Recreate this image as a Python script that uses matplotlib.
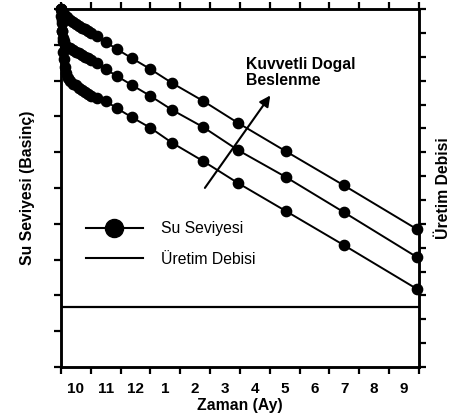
import numpy as np
import matplotlib.pyplot as plt
from matplotlib.lines import Line2D

plt.rcParams['font.family'] = ['Liberation Sans', 'DejaVu Sans']

# time axis in months from start (10th month = 0)
month_labels = ["10", "11", "12", "1", "2", "3", "4", "5", "6", "7", "8", "9"]

# water level series (three recharge cases)
x_top = [0, 0.05, 0.1, 0.15, 0.2, 0.3, 0.4, 0.5, 0.6, 0.7, 0.8, 0.9, 1.0,
         1.2, 1.5, 1.87, 2.37, 3.0, 3.73, 4.77, 5.93, 7.53, 9.47, 11.93]
y_top = [10, 9.93, 9.87, 9.82, 9.77, 9.7, 9.64, 9.59, 9.53, 9.48, 9.43, 9.38, 9.33,
         9.25, 9.08, 8.88, 8.63, 8.32, 7.93, 7.43, 6.82, 6.03, 5.08, 3.85]

x_mid = [0, 0.01, 0.02, 0.04, 0.07, 0.1, 0.15, 0.2, 0.3, 0.4, 0.5, 0.6, 0.7, 0.8, 0.9, 1.0,
         1.2, 1.5, 1.87, 2.37, 3.0, 3.73, 4.77, 5.93, 7.53, 9.47, 11.93]
y_mid = [10, 9.8, 9.6, 9.4, 9.2, 9.1, 9.0, 8.95, 8.9, 8.85, 8.8, 8.76, 8.72, 8.67, 8.62, 8.57,
         8.49, 8.32, 8.13, 7.88, 7.57, 7.18, 6.70, 6.06, 5.31, 4.33, 3.07]

x_low = [0, 0.02, 0.04, 0.06, 0.08, 0.1, 0.13, 0.17, 0.22, 0.3, 0.4, 0.5, 0.6, 0.7, 0.8, 0.9, 1.0,
         1.2, 1.5, 1.87, 2.37, 3.0, 3.73, 4.77, 5.93, 7.53, 9.47, 11.93]
y_low = [10, 9.7, 9.4, 9.1, 8.8, 8.6, 8.38, 8.22, 8.08, 7.98, 7.92, 7.87, 7.8, 7.74, 7.68, 7.63, 7.58,
         7.52, 7.43, 7.23, 6.98, 6.68, 6.26, 5.75, 5.14, 4.36, 3.41, 2.18]

# production rate (constant)
uretim = 1.68

fig = plt.figure(figsize=(4.67, 4.18), dpi=100)
ax = fig.add_axes([0.1306, 0.122, 0.7666, 0.8563])

for xs, ys in [(x_top, y_top), (x_mid, y_mid), (x_low, y_low)]:
    ax.plot(xs, ys, color='black', lw=1.4, marker='o', ms=7.4, clip_on=False, zorder=3)

ax.axhline(uretim, color='black', lw=1.6)

ax.set_xlim(0, 12)
ax.set_ylim(0, 10)

# ticks: marks on month borders, labels in between
ax.set_xticks(np.arange(0, 13))
ax.set_xticklabels([])
ax.set_xticks(np.arange(0.5, 12), minor=True)
ax.set_xticklabels(month_labels, minor=True, fontsize=11, fontweight='bold')
ax.set_yticks(np.arange(0, 11))
ax.set_yticklabels([])
ax.tick_params(axis='both', which='major', direction='out', length=5, width=1.6)
ax.tick_params(axis='x', which='minor', length=0, pad=11)
ax.tick_params(axis='x', which='major', top=True)
for s in ax.spines.values():
    s.set_linewidth(1.8)

ax.set_xlabel('Zaman (Ay)', fontsize=11.3, fontweight='bold', labelpad=1)
ax.set_ylabel('Su Seviyesi (Basinç)', fontsize=11.3, fontweight='bold', labelpad=10)

ax2 = ax.twinx()
ax2.set_ylim(0, 15)
ax2.set_yticks(np.arange(0, 16))
ax2.set_yticklabels([])
ax2.tick_params(axis='y', direction='out', length=5, width=1.6)
for s in ax2.spines.values():
    s.set_linewidth(1.8)
ax2.set_ylabel('Üretim Debisi', fontsize=11.3, fontweight='bold', labelpad=4)

# arrow + annotation
ax.annotate('', xy=(7.07, 7.65), xytext=(4.77, 4.94),
            arrowprops=dict(arrowstyle='-|>', lw=1.5, color='black', mutation_scale=16))
ax.text(6.2, 8.22, 'Kuvvetli Dogal\nBeslenme', fontsize=11.3, fontweight='bold',
        ha='left', va='center', linespacing=1.1)

handles = [Line2D([], [], color='black', lw=1.5, marker='o', ms=13),
           Line2D([], [], color='black', lw=1.5)]
ax.legend(handles, ['Su Seviyesi', 'Üretim Debisi'], loc='center left',
          bbox_to_anchor=(0.07, 0.344), frameon=False, fontsize=11.3,
          handlelength=3.6, handletextpad=1.2, labelspacing=1.0,
          borderpad=0, borderaxespad=0)

fig.savefig('out.png', dpi=100)
